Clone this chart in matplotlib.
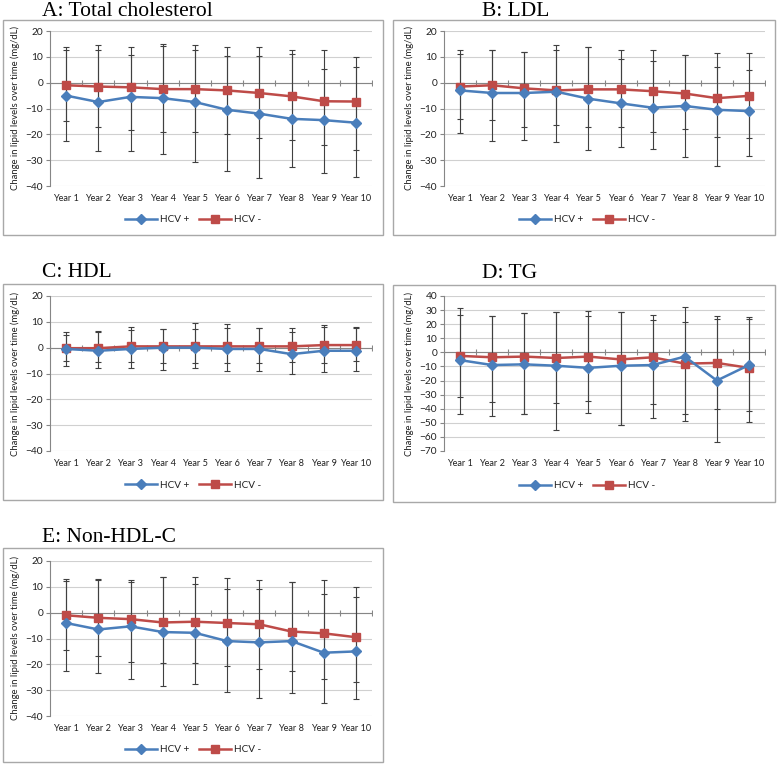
import matplotlib
matplotlib.use('Agg')
import matplotlib.pyplot as plt
from matplotlib.patches import Rectangle
from matplotlib.lines import Line2D

years = ['Year 1', 'Year 2', 'Year 3', 'Year 4', 'Year 5',
         'Year 6', 'Year 7', 'Year 8', 'Year 9', 'Year 10']

# A: Total cholesterol
tc_pos = [-5, -7.5, -5.5, -6, -7.5, -10.5, -12, -14, -14.5, -15.5]
tc_neg = [-1, -1.5, -1.8, -2.5, -2.5, -3, -4, -5.3, -7.2, -7.3]
tc_pos_hi = [12.5, 12.5, 13.8, 14.8, 14.4, 14, 14, 11, 12.5, 9.8]
tc_pos_lo = [-22.7, -26.3, -26.3, -27.7, -30.8, -34, -37, -32.8, -35, -36.7]
tc_neg_hi = [14, 14.4, 10.8, 14.2, 12.5, 10.5, 10.5, 12.8, 5.2, 6]
tc_neg_lo = [-15, -17, -18.5, -19, -19, -20, -21.5, -22, -24, -26]

# B: LDL
ldl_pos = [-3, -4, -4, -3.5, -6.2, -8, -9.7, -9, -10.5, -11]
ldl_neg = [-1.5, -1, -2.2, -3, -2.6, -2.6, -3.3, -4.2, -6, -5.1]
ldl_pos_hi = [11, 12.8, 11.7, 14.4, 14, 12.8, 12.5, 10.8, 11.3, 11.3]
ldl_pos_lo = [-19.5, -22.7, -22, -23, -26, -25, -25.8, -28.7, -32.3, -28.5]
ldl_neg_hi = [12.8, 12.8, 11.7, 12.8, 14, 9, 8.5, 10.8, 6, 5]
ldl_neg_lo = [-14, -14.5, -17, -16.5, -17, -17, -19, -18, -21, -21.5]

# C: HDL
hdl_pos = [-0.5, -1.2, -0.5, 0, 0, -0.5, -0.5, -2.5, -1.2, -1.2]
hdl_neg = [-0.2, -0.2, 0.5, 0.5, 0.5, 0.5, 0.5, 0.5, 1, 1]
hdl_pos_hi = [5, 6.5, 6.7, 7.3, 7.3, 7.7, 7.5, 6, 8, 7.7]
hdl_pos_lo = [-7, -8, -8, -8.5, -8, -9, -9, -10.3, -9.5, -9]
hdl_neg_hi = [6, 6, 8, 7.3, 9.5, 9, 7.7, 7.5, 8.7, 8]
hdl_neg_lo = [-5, -5.5, -5.5, -6, -6, -6, -6, -5.7, -6, -5]

# D: TG
tg_pos = [-5.5, -9, -8.5, -9.5, -11, -9.5, -9, -3, -20, -9]
tg_neg = [-2.5, -3.5, -3, -4, -3, -5, -3.5, -8, -7.5, -11]
tg_pos_hi = [26.5, 25.7, 27.8, 28.8, 25.7, 28.8, 23.3, 32.1, 23.8, 23.8]
tg_pos_lo = [-43.9, -45, -43.9, -55.4, -42.7, -51.9, -46.5, -48.6, -63.4, -49.5]
tg_neg_hi = [31.6, 25.7, 27.8, 28.8, 29.5, 28.8, 26.7, 21.5, 25.7, 25]
tg_neg_lo = [-31.4, -34.9, -43.9, -35.6, -34.4, -51.9, -36.6, -43.9, -40.3, -41.7]

# E: Non-HDL-C
nhdl_pos = [-4, -6.5, -5.3, -7.5, -7.8, -11, -11.5, -11, -15.5, -15]
nhdl_neg = [-1, -2, -2.5, -3.8, -3.5, -4, -4.5, -7.3, -8, -9.5]
nhdl_pos_hi = [12.3, 12.8, 12, 14, 11.2, 9, 9, 12, 7.4, 6.2]
nhdl_pos_lo = [-22.7, -23.4, -25.5, -28.3, -27.6, -30.6, -32.9, -31, -35, -33.5]
nhdl_neg_hi = [13.2, 13.2, 12.6, 14, 14, 13.5, 12.5, 12, 12.6, 9.8]
nhdl_neg_lo = [-14.5, -16.8, -19, -19.5, -19.5, -20.5, -21.9, -22.6, -25.7, -27]

W, H = 777, 765
BLUE = '#4a7ebb'
RED = '#be4b48'
GRID = '#d0d0d0'
AXIS = '#868686'
SANS = 'Lato'
SERIF = 'Liberation Serif'


def fig_box(x0, y0, x1, y1):
    # pixel box (top-left origin) -> figure fraction [l, b, w, h]
    return [x0 / W, 1 - y1 / H, (x1 - x0) / W, (y1 - y0) / H]


def draw_panel(fig, title, pos, neg, pos_hi, pos_lo, neg_hi, neg_lo,
               plot_px, frame_px, title_px, legend_px, ylim, yticks):
    fx0, fy0, fx1, fy1 = frame_px
    fig.patches.append(Rectangle((fx0 / W, 1 - fy1 / H), (fx1 - fx0) / W, (fy1 - fy0) / H,
                                 transform=fig.transFigure, fill=False,
                                 edgecolor='#a8a8a8', linewidth=1.0))
    fig.text(title_px[0] / W, 1 - title_px[1] / H, title, family=SERIF,
             fontsize=15.5, ha='left', va='center')

    ax = fig.add_axes(fig_box(*plot_px))
    x = list(range(len(years)))

    for vals, hi, lo in ((pos, pos_hi, pos_lo), (neg, neg_hi, neg_lo)):
        yerr = [[v - l for v, l in zip(vals, lo)], [h - v for v, h in zip(vals, hi)]]
        ax.errorbar(x, vals, yerr=yerr, fmt='none', ecolor='#404040',
                    elinewidth=0.8, capsize=2.5, capthick=0.8, zorder=2)

    ax.plot(x, pos, color=BLUE, lw=1.8, marker='D', markersize=5,
            markerfacecolor=BLUE, markeredgecolor=BLUE, zorder=4, label='HCV +')
    ax.plot(x, neg, color=RED, lw=1.8, marker='s', markersize=6,
            markerfacecolor=RED, markeredgecolor=RED, zorder=3, label='HCV -')

    ax.set_xlim(-0.5, len(years) - 0.5)
    ax.set_ylim(*ylim)
    ax.set_yticks(yticks)
    ax.yaxis.grid(True, color=GRID, linewidth=0.8)
    ax.set_axisbelow(True)
    ax.axhline(0, color=AXIS, linewidth=0.8, zorder=1)
    bounds = [b - 0.5 for b in range(len(years) + 1)]
    ax.plot(bounds, [0] * len(bounds), linestyle='none', marker='|',
            markersize=4, color=AXIS, markeredgewidth=0.8, zorder=1)

    for side in ('top', 'right', 'bottom'):
        ax.spines[side].set_visible(False)
    ax.spines['left'].set_color(AXIS)
    ax.spines['left'].set_linewidth(0.8)

    ax.set_xticks(x)
    ax.set_xticklabels(years, family=SANS, fontsize=6.6, color='#202020')
    ax.tick_params(axis='x', length=0, pad=6)
    ax.tick_params(axis='y', length=3, color=AXIS, labelsize=7.3, pad=2,
                   labelcolor='#202020')
    for lab in ax.get_yticklabels():
        lab.set_family(SANS)

    ax.set_ylabel('Change in lipid levels over time (mg/dL)', family=SANS,
                  fontsize=6.8, color='#202020')
    ax.yaxis.set_label_coords(-30 / (plot_px[2] - plot_px[0]), 0.5)

    handles = [Line2D([], [], color=BLUE, lw=1.8, marker='D', markersize=5),
               Line2D([], [], color=RED, lw=1.8, marker='s', markersize=6)]
    fig.legend(handles, ['HCV +', 'HCV -'], loc='center',
               bbox_to_anchor=(legend_px[0] / W, 1 - legend_px[1] / H),
               ncol=2, frameon=False, prop={'family': SANS, 'size': 7.2},
               handlelength=3.2, columnspacing=1.0, handletextpad=0.3,
               labelcolor='#202020')
    return ax


fig = plt.figure(figsize=(W / 100, H / 100), dpi=100)

std_ticks = [-40, -30, -20, -10, 0, 10, 20]

draw_panel(fig, 'A: Total cholesterol', tc_pos, tc_neg, tc_pos_hi, tc_pos_lo, tc_neg_hi, tc_neg_lo,
           (50, 31, 372, 186), (3, 20, 383, 235), (42, 11), (193, 220), (-40, 20), std_ticks)
draw_panel(fig, 'B: LDL', ldl_pos, ldl_neg, ldl_pos_hi, ldl_pos_lo, ldl_neg_hi, ldl_neg_lo,
           (444, 31, 765, 186), (393, 20, 775, 235), (482, 11), (587, 220), (-40, 20), std_ticks)
draw_panel(fig, 'C: HDL', hdl_pos, hdl_neg, hdl_pos_hi, hdl_pos_lo, hdl_neg_hi, hdl_neg_lo,
           (50, 296, 372, 451), (3, 284, 383, 500), (42, 272), (193, 485), (-40, 20), std_ticks)
draw_panel(fig, 'D: TG', tg_pos, tg_neg, tg_pos_hi, tg_pos_lo, tg_neg_hi, tg_neg_lo,
           (444, 296, 765, 451), (393, 285, 775, 502), (482, 273), (587, 486), (-70, 40),
           [-70, -60, -50, -40, -30, -20, -10, 0, 10, 20, 30, 40])
draw_panel(fig, 'E: Non-HDL-C', nhdl_pos, nhdl_neg, nhdl_pos_hi, nhdl_pos_lo, nhdl_neg_hi, nhdl_neg_lo,
           (50, 561, 372, 716), (3, 548, 383, 762), (42, 537), (193, 750), (-40, 20), std_ticks)

fig.savefig('out.png', dpi=100)
